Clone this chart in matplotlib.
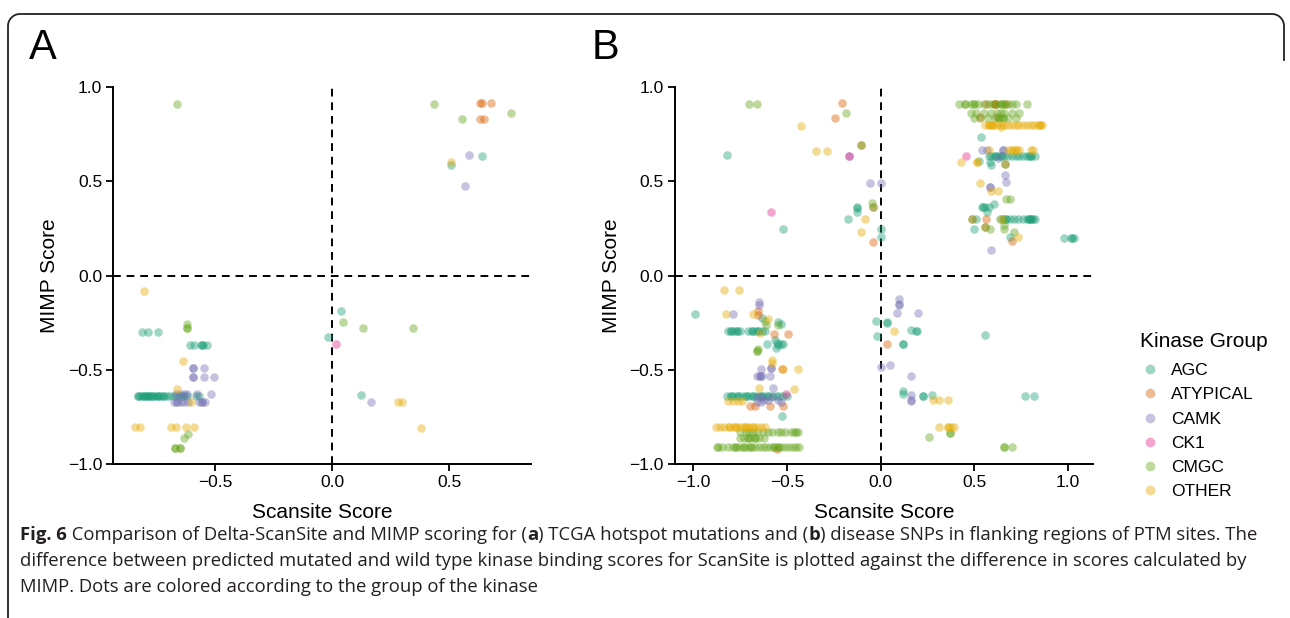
import numpy as np
import matplotlib
matplotlib.use("Agg")
import matplotlib.pyplot as plt
from matplotlib.lines import Line2D

# ---- kinase groups / colours (Dark2) ----
GROUPS = ["AGC", "ATYPICAL", "CAMK", "CK1", "CMGC", "OTHER"]
COLORS = ["#1b9e77", "#d95f02", "#7570b3", "#e7298a", "#66a61e", "#e6ab02"]

# ---- panel A: TCGA hotspot mutations ----
A_AGC_X = [0.638, 0.505, 0.035, -0.018, 0.123, -0.815, -0.788, -0.747,
           -0.609, -0.591, -0.561, -0.558, -0.553, -0.535,
           -0.829, -0.822, -0.814, -0.806, -0.798, -0.790, -0.783, -0.775,
           -0.765, -0.753, -0.745, -0.735, -0.722, -0.712, -0.697, -0.680,
           -0.667, -0.656, -0.644, -0.632, -0.621, -0.583, -0.568,
           -0.829, -0.806, -0.783, -0.765, -0.745, -0.722]
A_AGC_Y = [0.633, 0.587, -0.189, -0.323, -0.634, -0.301, -0.301, -0.301,
           -0.365, -0.365, -0.365, -0.365, -0.365, -0.365,
           -0.640, -0.640, -0.640, -0.640, -0.640, -0.640, -0.640, -0.640,
           -0.640, -0.640, -0.640, -0.640, -0.640, -0.640, -0.640, -0.640,
           -0.640, -0.640, -0.640, -0.640, -0.640, -0.640, -0.640,
           -0.640, -0.640, -0.640, -0.640, -0.640, -0.640]
A_ATY_X = [0.629, 0.639, 0.679, 0.629, 0.647]
A_ATY_Y = [0.913, 0.913, 0.913, 0.832, 0.832]
A_CAMK_X = [0.585, 0.567, 0.167, -0.594, -0.594, -0.548, -0.594, -0.594,
            -0.548, -0.506, -0.667, -0.652, -0.636, -0.621, -0.579, -0.518,
            -0.677, -0.662, -0.647, -0.632, -0.617, -0.568, -0.558, -0.545,
            -0.662, -0.558]
A_CAMK_Y = [0.638, 0.473, -0.671, -0.491, -0.491, -0.491, -0.535, -0.535,
            -0.535, -0.535, -0.626, -0.626, -0.626, -0.626, -0.626, -0.626,
            -0.668, -0.668, -0.668, -0.668, -0.668, -0.668, -0.668, -0.668,
            -0.668, -0.668]
A_CK1_X = [0.015]
A_CK1_Y = [-0.362]
A_CMGC_X = [-0.664, 0.435, 0.552, 0.762, 0.045, 0.132, 0.345, -0.621,
            -0.621, -0.621, -0.617, -0.636, -0.674, -0.652, -0.674, -0.652]
A_CMGC_Y = [0.908, 0.908, 0.832, 0.862, -0.244, -0.275, -0.275, -0.257,
            -0.275, -0.275, -0.840, -0.862, -0.911, -0.911, -0.911, -0.911]
A_OTH_X = [0.508, 0.279, 0.298, 0.380, -0.803, -0.639, -0.664, -0.602,
           -0.845, -0.821, -0.689, -0.670, -0.626, -0.591]
A_OTH_Y = [0.601, -0.670, -0.670, -0.806, -0.080, -0.450, -0.601, -0.668,
           -0.803, -0.803, -0.803, -0.803, -0.803, -0.803]

# ---- panel B: disease SNPs ----
B_AGC_X = [-0.821, -0.128, -0.128, -0.126, -0.174, -0.519, 0.0, 0.0,
           0.537, 0.575, 0.59, 0.61, 0.625, 0.64, 0.66, 0.68, 0.70, 0.72,
           0.74, 0.76, 0.78, 0.80, 0.825, 0.61, 0.64, 0.80, 0.79,
           0.524, 0.583, 0.59, 0.604, 0.578, 0.539, 0.556, 0.545, 0.565,
           0.507, 0.634, 0.65, 0.67, 0.69, 0.71, 0.73, 0.76, 0.78, 0.79,
           0.80, 0.81, 0.825, 0.79, 0.80, 0.67,
           0.498, 0.691, 0.977, 1.0125, 1.03, 1.02,
           -0.990, -0.635, -0.546, -0.533,
           -0.812, -0.798, -0.782, -0.764, -0.75, -0.706, -0.688, -0.670,
           -0.652, -0.635, -0.617, -0.798, -0.764, -0.688, -0.652,
           -0.608, -0.564, -0.555, -0.546, -0.532, -0.52, -0.56,
           -0.821, -0.80, -0.78, -0.76, -0.74, -0.72, -0.70, -0.68, -0.66,
           -0.64, -0.62, -0.60, -0.58, -0.56, -0.54, -0.52, -0.50,
           -0.80, -0.76, -0.72, -0.68, -0.64, -0.60,
           -0.528,
           -0.027, -0.018, 0.034, 0.034, 0.161, 0.188, 0.193, 0.557, 0.12,
           0.12, 0.12, 0.12, 0.223, 0.223, 0.271, 0.768, 0.816]
B_AGC_Y = [0.638, 0.366, 0.356, 0.338, 0.300, 0.249, 0.249, 0.203,
           0.737, 0.636, 0.636, 0.636, 0.636, 0.636, 0.636, 0.636, 0.636,
           0.636, 0.636, 0.636, 0.636, 0.636, 0.636, 0.636, 0.636, 0.636,
           0.636, 0.610, 0.600, 0.585, 0.381, 0.365, 0.365, 0.365, 0.365,
           0.339, 0.298, 0.298, 0.298, 0.298, 0.298, 0.298, 0.298, 0.298,
           0.298, 0.298, 0.298, 0.298, 0.298, 0.298, 0.298, 0.298,
           0.249, 0.204, 0.200, 0.200, 0.200, 0.200,
           -0.202, -0.225, -0.246, -0.257,
           -0.296, -0.296, -0.296, -0.296, -0.296, -0.296, -0.296, -0.296,
           -0.296, -0.296, -0.296, -0.296, -0.296, -0.296, -0.296,
           -0.360, -0.340, -0.355, -0.367, -0.362, -0.362, -0.385,
           -0.637, -0.637, -0.637, -0.637, -0.637, -0.637, -0.637, -0.637,
           -0.637, -0.637, -0.637, -0.637, -0.637, -0.637, -0.637, -0.637,
           -0.637, -0.637, -0.637, -0.637, -0.637, -0.637, -0.637,
           -0.743,
           -0.238, -0.320, -0.245, -0.250, -0.290, -0.293, -0.293, -0.317,
           -0.362, -0.362, -0.610, -0.628, -0.637, -0.637, -0.633, -0.637,
           -0.637]
B_ATY_X = [-0.206, -0.242, -0.107, -0.041, -0.041,
           0.61, 0.61, 0.61, 0.56, 0.67, 0.53, 0.62, 0.663, 0.489, 0.5625,
           0.557, 0.70,
           -0.652, -0.652, -0.567, -0.492, -0.697, -0.67, -0.59, -0.52,
           -0.551, -0.527, 0.036]
B_ATY_Y = [0.916, 0.834, 0.692, 0.366, 0.181,
           0.909, 0.909, 0.909, 0.909, 0.909, 0.840, 0.840, 0.590, 0.298,
           0.298, 0.260, 0.183,
           -0.190, -0.207, -0.309, -0.309, -0.690, -0.690, -0.690, -0.690,
           -0.917, -0.497, -0.362]
B_CAMK_X = [-0.169, -0.055, 0.0,
            0.538, 0.565, 0.65, 0.65, 0.627, 0.663, 0.668, 0.583, 0.583,
            0.589,
            -0.789, -0.649, -0.649, -0.64, -0.587, -0.587, -0.661, -0.644,
            -0.635, -0.644, -0.59, -0.572, -0.66, -0.64, -0.62, -0.60,
            -0.58, -0.55, -0.53, -0.64, -0.66,
            0.095, 0.095, 0.095, 0.089, 0.2, 0.05, 0.0, 0.164, 0.164,
            0.164, 0.164]
B_CAMK_Y = [0.635, 0.489, 0.489,
            0.665, 0.665, 0.665, 0.665, 0.625, 0.533, 0.497, 0.472, 0.472,
            0.137,
            -0.202, -0.142, -0.154, -0.496, -0.488, -0.488, -0.532, -0.532,
            -0.532, -0.532, -0.532, -0.594, -0.645, -0.645, -0.660, -0.660,
            -0.645, -0.660, -0.670, -0.670, -0.670,
            -0.126, -0.149, -0.155, -0.200, -0.200, -0.472, -0.486, -0.534,
            -0.635, -0.658, -0.667]
B_CK1_X = [-0.169, -0.583, 0.455, -0.505]
B_CK1_Y = [0.635, 0.336, 0.634, -0.630]
B_CMGC_X = [-0.702, -0.661, -0.183, -0.107, -0.046, -0.041,
            0.42, 0.45, 0.48, 0.50, 0.52, 0.55, 0.58, 0.60, 0.62, 0.64,
            0.66, 0.68, 0.70, 0.72, 0.78, 0.45, 0.50, 0.64, 0.66,
            0.48, 0.51, 0.55, 0.59, 0.62, 0.64, 0.66, 0.70, 0.74,
            0.50, 0.53, 0.57, 0.61, 0.63, 0.65, 0.68, 0.72, 0.63, 0.65,
            0.668, 0.69, 0.654, 0.663, 0.584, 0.655, 0.655, 0.709, 0.557,
            0.489,
            -0.617, -0.612, -0.546, -0.661, -0.656, -0.66,
            -0.75, -0.72, -0.70, -0.68, -0.66, -0.63, -0.60, -0.58, -0.55,
            -0.53, -0.51, -0.48, -0.46, -0.45, -0.44,
            -0.75, -0.73, -0.71, -0.69, -0.67, -0.65, -0.62, -0.71, -0.67,
            -0.875, -0.866, -0.848, -0.812, -0.79, -0.77, -0.75, -0.73,
            -0.71, -0.69, -0.67, -0.65, -0.63, -0.61, -0.59, -0.57, -0.55,
            -0.53, -0.51, -0.49, -0.47, -0.45, -0.434, -0.77, -0.73, -0.69,
            -0.57, -0.55,
            0.259, 0.37, 0.37, 0.657, 0.657, 0.70]
B_CMGC_Y = [0.910, 0.910, 0.862, 0.692, 0.384, 0.366,
            0.909, 0.909, 0.909, 0.909, 0.909, 0.909, 0.909, 0.909, 0.909,
            0.909, 0.909, 0.909, 0.909, 0.909, 0.909, 0.909, 0.909, 0.909,
            0.909,
            0.861, 0.861, 0.861, 0.861, 0.861, 0.861, 0.861, 0.861, 0.861,
            0.837, 0.837, 0.837, 0.837, 0.837, 0.837, 0.837, 0.837, 0.837,
            0.837,
            0.406, 0.406, 0.298, 0.590, 0.249, 0.268, 0.249, 0.231, 0.260,
            0.298,
            -0.243, -0.260, -0.260, -0.400, -0.390, -0.400,
            -0.830, -0.830, -0.830, -0.830, -0.830, -0.830, -0.830, -0.830,
            -0.830, -0.830, -0.830, -0.830, -0.830, -0.830, -0.830,
            -0.858, -0.858, -0.858, -0.858, -0.858, -0.858, -0.858, -0.858,
            -0.858,
            -0.908, -0.908, -0.908, -0.908, -0.908, -0.908, -0.908, -0.908,
            -0.908, -0.908, -0.908, -0.908, -0.908, -0.908, -0.908, -0.908,
            -0.908, -0.908, -0.908, -0.908, -0.908, -0.908, -0.908, -0.908,
            -0.908, -0.908, -0.908, -0.908,
            -0.856, -0.835, -0.835, -0.908, -0.908, -0.908]
B_OTH_X = [-0.427, -0.343, -0.284, -0.085, -0.103,
           0.557, 0.575, 0.59, 0.60, 0.62, 0.64, 0.66, 0.68, 0.70, 0.72,
           0.74, 0.76, 0.78, 0.80, 0.82, 0.84, 0.85, 0.861, 0.575, 0.60,
           0.85, 0.64,
           0.579, 0.68, 0.70, 0.72, 0.74, 0.80, 0.81, 0.70, 0.72,
           0.429, 0.512, 0.512, 0.53, 0.588, 0.623, 0.641, 0.73,
           -0.834, -0.756, -0.825, -0.679, -0.6, -0.644, -0.581, -0.581,
           -0.523, -0.44, -0.647, -0.46,
           -0.812, -0.789, -0.763, -0.742,
           -0.878, -0.858, -0.835, -0.81, -0.79, -0.77, -0.75, -0.735,
           -0.72, -0.70, -0.68, -0.66, -0.64, -0.617, -0.81, -0.77, -0.72,
           -0.68,
           0.071, 0.277, 0.3125, 0.357, 0.3125, 0.357, 0.375, 0.393, 0.357]
B_OTH_Y = [0.795, 0.663, 0.663, 0.300, 0.231,
           0.800, 0.800, 0.800, 0.800, 0.800, 0.800, 0.800, 0.800, 0.800,
           0.800, 0.800, 0.800, 0.800, 0.800, 0.800, 0.800, 0.800, 0.800,
           0.800, 0.800, 0.800, 0.790,
           0.664, 0.664, 0.664, 0.664, 0.664, 0.664, 0.664, 0.664, 0.664,
           0.600, 0.600, 0.600, 0.493, 0.449, 0.449, 0.298, 0.204,
           -0.074, -0.078, -0.202, -0.202, -0.230, -0.305, -0.447, -0.464,
           -0.496, -0.495, -0.598, -0.601,
           -0.663, -0.663, -0.663, -0.663,
           -0.801, -0.801, -0.801, -0.801, -0.801, -0.801, -0.801, -0.801,
           -0.801, -0.801, -0.801, -0.801, -0.801, -0.801, -0.801, -0.801,
           -0.801, -0.801,
           -0.296, -0.661, -0.661, -0.661, -0.800, -0.800, -0.800, -0.800,
           -0.800]

PANEL_A = [(A_AGC_X, A_AGC_Y), (A_ATY_X, A_ATY_Y), (A_CAMK_X, A_CAMK_Y),
           (A_CK1_X, A_CK1_Y), (A_CMGC_X, A_CMGC_Y), (A_OTH_X, A_OTH_Y)]
PANEL_B = [(B_AGC_X, B_AGC_Y), (B_ATY_X, B_ATY_Y), (B_CAMK_X, B_CAMK_Y),
           (B_CK1_X, B_CK1_Y), (B_CMGC_X, B_CMGC_Y), (B_OTH_X, B_OTH_Y)]

CAPTION = [
    [("Fig. 6", "bold"), (" Comparison of Delta-ScanSite and MIMP scoring for (", "normal"),
     ("a", "bold"), (") TCGA hotspot mutations and (", "normal"), ("b", "bold"),
     (") disease SNPs in flanking regions of PTM sites. The", "normal")],
    [("difference between predicted mutated and wild type kinase binding scores "
      "for ScanSite is plotted against the difference in scores calculated by", "normal")],
    [("MIMP. Dots are colored according to the group of the kinase", "normal")],
]

AX_FONT = ["Liberation Sans", "DejaVu Sans"]
CAP_FONT = ["Open Sans", "DejaVu Sans"]
plt.rcParams["font.family"] = AX_FONT

W, H = 1290, 618
fig = plt.figure(figsize=(W / 100, H / 100), dpi=100)


def px(x, y):
    return x / W, 1 - y / H


def fmt(v, p):
    return f"{v:.1f}".replace("-", "\u2212")


def scatter_panel(ax, data, xlim, xticks):
    for (xs, ys), col in zip(data, COLORS):
        ax.scatter(xs, ys, s=38, color=col, alpha=0.42, linewidths=0)
    ax.axhline(0, color="black", ls=(0, (4, 3)), lw=1.4, zorder=0)
    ax.axvline(0, color="black", ls=(0, (4, 3)), lw=1.4, zorder=0)
    ax.set_xlim(*xlim)
    ax.set_ylim(-1, 1)
    ax.set_xticks(xticks)
    ax.set_yticks([-1.0, -0.5, 0.0, 0.5, 1.0])
    ax.xaxis.set_major_formatter(matplotlib.ticker.FuncFormatter(fmt))
    ax.yaxis.set_major_formatter(matplotlib.ticker.FuncFormatter(fmt))
    for s in ["top", "right"]:
        ax.spines[s].set_visible(False)
    for s in ["left", "bottom"]:
        ax.spines[s].set_linewidth(1.4)
    ax.tick_params(direction="out", length=5, width=1.3, labelsize=12.5,
                   colors="black", pad=3)
    ax.set_xlabel("Scansite Score", fontsize=15, labelpad=9, family=AX_FONT)
    ax.set_ylabel("MIMP Score", fontsize=15, labelpad=6, family=AX_FONT)


# axes positions from pixel layout
x0, y0 = px(113.3, 464.3)
x1, y1 = px(531, 87)
ax_a = fig.add_axes([x0, y0, x1 - x0, y1 - y0])
scatter_panel(ax_a, PANEL_A, (-0.936, 0.849), [-0.5, 0.0, 0.5])

x0, y0 = px(675, 464.3)
x1, y1 = px(1093, 87)
ax_b = fig.add_axes([x0, y0, x1 - x0, y1 - y0])
scatter_panel(ax_b, PANEL_B, (-1.097, 1.132), [-1.0, -0.5, 0.0, 0.5, 1.0])

# legend
handles = [Line2D([], [], ls="none", marker="o", ms=7, color=c, alpha=0.42,
                  markeredgewidth=0) for c in COLORS]
leg = fig.legend(handles, GROUPS, title="Kinase Group", loc="upper left",
                 bbox_to_anchor=px(1124, 316), frameon=False, fontsize=12.5,
                 title_fontsize=15, handletextpad=0.6, labelspacing=0.52,
                 handlelength=1.2, alignment="left")
leg._legend_box.sep = 9

# panel letters
fig.text(*px(29, 48), "A", fontsize=30, va="center", ha="left")
fig.text(*px(592, 48), "B", fontsize=30, va="center", ha="left")

# rounded frame (open at the bottom)
r = 12
t = np.linspace(0, np.pi / 2, 20)
fx = np.concatenate([[8, 8], 8 + r - r * np.cos(t), [1284 - r],
                     1284 - r + r * np.sin(t), [1284]])
fy = np.concatenate([[H, 14 + r], 14 + r - r * np.sin(t), [14],
                     14 + r - r * np.cos(t), [60]])
fig.add_artist(Line2D(fx / W, 1 - fy / H, transform=fig.transFigure,
                      color="#222222", lw=1.3))

# caption, segment by segment to allow bold runs
renderer = fig.canvas.get_renderer()
line_y = [535, 561, 587]
for parts, ly in zip(CAPTION, line_y):
    cx = 20
    for txt, wt in parts:
        tt = fig.text(cx / W, 1 - ly / H, txt, fontsize=13.3, fontweight=wt,
                      family=CAP_FONT, va="center", ha="left",
                      color="#231f20")
        bb = tt.get_window_extent(renderer)
        cx += bb.width

fig.savefig("out.png", dpi=100)
